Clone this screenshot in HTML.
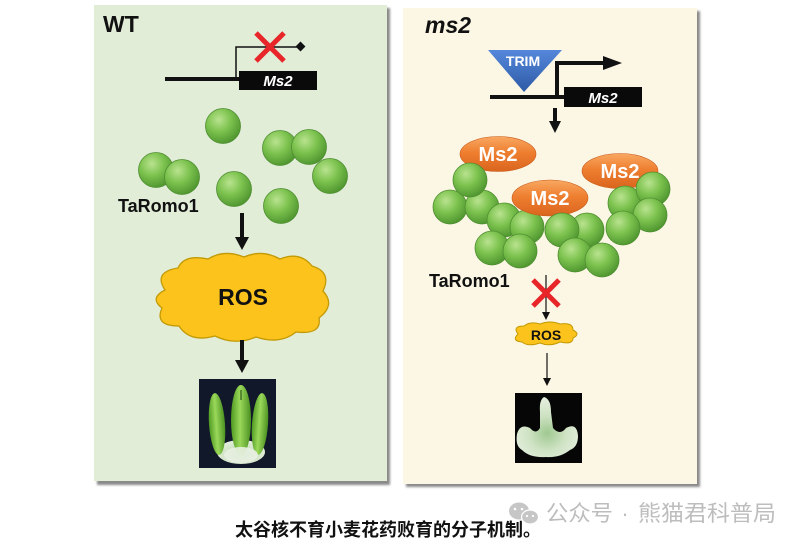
<!DOCTYPE html>
<html><head><meta charset="utf-8"><style>
html,body{margin:0;padding:0;background:#fff;width:797px;height:542px;overflow:hidden}
svg{display:block}
.l{font-family:"Liberation Sans",Arial,sans-serif}
.c{font-family:"Liberation Sans","Noto Sans CJK SC",sans-serif}
</style></head><body>
<svg width="797" height="542" viewBox="0 0 797 542" xmlns="http://www.w3.org/2000/svg">
<defs>
<radialGradient id="gb" cx="0.38" cy="0.32" r="0.7">
<stop offset="0" stop-color="#b9e38f"/><stop offset="0.5" stop-color="#7cc24e"/><stop offset="1" stop-color="#4f9630"/>
</radialGradient>
<linearGradient id="og" x1="0" y1="0" x2="0" y2="1">
<stop offset="0" stop-color="#f8a862"/><stop offset="0.45" stop-color="#ef7f30"/><stop offset="1" stop-color="#da651e"/>
</linearGradient>
<linearGradient id="bg" x1="0" y1="0" x2="0" y2="1">
<stop offset="0" stop-color="#5587da"/><stop offset="1" stop-color="#2d5aa6"/>
</linearGradient>
<linearGradient id="an" x1="0" y1="0" x2="1" y2="0">
<stop offset="0" stop-color="#4f9a22"/><stop offset="0.45" stop-color="#9ad85a"/><stop offset="1" stop-color="#4a9020"/>
</linearGradient>
<radialGradient id="wt" cx="0.5" cy="0.6" r="0.6">
<stop offset="0" stop-color="#9fc890"/><stop offset="0.5" stop-color="#cfe3c4"/><stop offset="1" stop-color="#e6efe0"/>
</radialGradient>
<filter id="sh" x="-5%" y="-5%" width="110%" height="110%"><feGaussianBlur stdDeviation="1"/></filter>
</defs>

<!-- panels -->
<rect x="97" y="8" width="293" height="477" fill="#8a8a8a" filter="url(#sh)"/>
<rect x="94" y="5" width="293" height="476" fill="#e2edd8"/>
<rect x="406" y="11" width="294" height="476" fill="#8a8a8a" filter="url(#sh)"/>
<rect x="403" y="8" width="294" height="476" fill="#fcf7e4"/>

<!-- LEFT: WT -->
<text x="103" y="32" class="l" font-size="23" font-weight="bold" fill="#111">WT</text>
<polyline points="236,79 236,47 299,47" fill="none" stroke="#111" stroke-width="1.5"/>
<rect x="297" y="43" width="7" height="7" fill="#111" transform="rotate(45 300.5 46.5)"/>
<line x1="165" y1="79" x2="241" y2="79" stroke="#111" stroke-width="4"/>
<rect x="239" y="71" width="78" height="19" fill="#0a0a0a"/>
<text x="278" y="86" class="l" font-size="15" font-weight="bold" font-style="italic" fill="#fff" text-anchor="middle">Ms2</text>
<g stroke="#e8262a" stroke-width="5" stroke-linecap="butt">
<line x1="256" y1="33" x2="284" y2="61"/><line x1="284" y1="33" x2="256" y2="61"/>
</g>

<g fill="url(#gb)" stroke="#4e8e31" stroke-width="0.8">
<circle cx="223" cy="126" r="17.5"/>
<circle cx="280" cy="148" r="17.5"/>
<circle cx="309" cy="147" r="17.5"/>
<circle cx="330" cy="176" r="17.5"/>
<circle cx="156" cy="170" r="17.5"/>
<circle cx="182" cy="177" r="17.5"/>
<circle cx="234" cy="189" r="17.5"/>
<circle cx="281" cy="206" r="17.5"/>
</g>
<text x="118" y="212" class="l" font-size="18" font-weight="bold" fill="#111">TaRomo1</text>

<line x1="242" y1="213" x2="242" y2="239" stroke="#111" stroke-width="4"/>
<polygon points="235,237 249,237 242,250" fill="#111"/>

<path d="M165 290 Q153 272 178 268 Q184 254 208 259 Q224 249 244 257 Q262 249 280 259 Q300 251 312 266 Q332 272 323 291 Q336 305 319 318 Q322 335 296 332 Q280 345 256 337 Q235 346 215 336 Q190 343 179 326 Q154 326 162 308 Q149 298 165 290 Z" fill="#fbc31b" stroke="#c29a05" stroke-width="1.3"/>
<text x="243" y="305" class="l" font-size="23" font-weight="bold" fill="#111" text-anchor="middle">ROS</text>

<line x1="242" y1="340" x2="242" y2="362" stroke="#111" stroke-width="4"/>
<polygon points="235,360 249,360 242,373" fill="#111"/>

<rect x="199" y="379" width="77" height="89" fill="#111829"/>
<ellipse cx="241" cy="452" rx="24" ry="12" fill="url(#wt)"/>
<ellipse cx="217" cy="424" rx="8" ry="31" fill="url(#an)" transform="rotate(-4 217 424)"/>
<ellipse cx="260" cy="424" rx="8" ry="31" fill="url(#an)" transform="rotate(4 260 424)"/>
<ellipse cx="241" cy="420" rx="10" ry="35" fill="url(#an)"/>
<ellipse cx="241" cy="455" rx="17" ry="8" fill="#e8efe2" opacity="0.9"/>
<line x1="241" y1="390" x2="241" y2="400" stroke="#2f5a1a" stroke-width="1.2"/>

<!-- RIGHT: ms2 -->
<text x="425" y="33" class="l" font-size="23" font-weight="bold" font-style="italic" fill="#111">ms2</text>
<polygon points="488,50 562,50 524,92" fill="url(#bg)"/>
<text x="523" y="66" class="l" font-size="14" font-weight="bold" fill="#fff" text-anchor="middle">TRIM</text>
<line x1="490" y1="97" x2="566" y2="97" stroke="#111" stroke-width="4"/>
<polyline points="557,97 557,63 605,63" fill="none" stroke="#111" stroke-width="4"/>
<polygon points="603,56 622,63 603,70" fill="#111"/>
<rect x="564" y="87" width="78" height="20" fill="#0a0a0a"/>
<text x="603" y="103" class="l" font-size="15" font-weight="bold" font-style="italic" fill="#fff" text-anchor="middle">Ms2</text>
<line x1="555" y1="108" x2="555" y2="123" stroke="#111" stroke-width="4"/>
<polygon points="549,121 561,121 555,133" fill="#111"/>

<!-- ellipse 1 + cluster -->
<ellipse cx="498" cy="154" rx="38" ry="17.5" fill="url(#og)" stroke="#c75a18" stroke-width="0.6"/>
<text x="498" y="161" class="l" font-size="20" font-weight="bold" fill="#fff" text-anchor="middle">Ms2</text>
<ellipse cx="620" cy="171" rx="38" ry="17.5" fill="url(#og)" stroke="#c75a18" stroke-width="0.6"/>
<text x="620" y="178" class="l" font-size="20" font-weight="bold" fill="#fff" text-anchor="middle">Ms2</text>
<g fill="url(#gb)" stroke="#4e8e31" stroke-width="0.8">
<circle cx="450" cy="207" r="17"/>
<circle cx="482" cy="207" r="17"/>
<circle cx="470" cy="180" r="17"/>
<circle cx="504" cy="220" r="17"/>
<circle cx="527" cy="227" r="17"/>
<circle cx="562" cy="230" r="17"/>
<circle cx="587" cy="230" r="17"/>
<circle cx="625" cy="203" r="17"/>
<circle cx="653" cy="189" r="17"/>
<circle cx="650" cy="215" r="17"/>
<circle cx="623" cy="228" r="17"/>
</g>
<ellipse cx="550" cy="198" rx="38" ry="18" fill="url(#og)" stroke="#c75a18" stroke-width="0.6"/>
<text x="550" y="205" class="l" font-size="20" font-weight="bold" fill="#fff" text-anchor="middle">Ms2</text>
<g fill="url(#gb)" stroke="#4e8e31" stroke-width="0.8">
<circle cx="492" cy="248" r="17"/>
<circle cx="520" cy="251" r="17"/>
<circle cx="562" cy="230" r="17"/>
<circle cx="575" cy="255" r="17"/>
<circle cx="602" cy="260" r="17"/>
</g>

<text x="429" y="287" class="l" font-size="18" font-weight="bold" fill="#111">TaRomo1</text>
<line x1="546" y1="275" x2="546" y2="314" stroke="#111" stroke-width="1.2"/>
<polygon points="542,312 550,312 546,320" fill="#111"/>
<g stroke="#e8262a" stroke-width="5">
<line x1="533" y1="280" x2="559" y2="306"/><line x1="559" y1="280" x2="533" y2="306"/>
</g>

<path d="M518 334 Q512 326 524 326 Q530 321 540 324 Q550 320 560 324 Q573 322 573 330 Q581 334 573 338 Q573 345 560 342 Q550 347 540 343 Q528 347 522 342 Q511 341 518 334 Z" fill="#fbc31b" stroke="#c29a05" stroke-width="1"/>
<text x="546" y="340" class="l" font-size="14" font-weight="bold" fill="#111" text-anchor="middle">ROS</text>

<line x1="547" y1="353" x2="547" y2="380" stroke="#111" stroke-width="1.2"/>
<polygon points="543,378 551,378 547,386" fill="#111"/>

<rect x="515" y="393" width="67" height="70" fill="#060606"/>
<path d="M544 397 Q551 399 551 412 L553 428 Q560 436 566 428 Q577 422 578 436 Q578 447 570 450 Q560 458 546 457 Q530 458 522 450 Q515 446 517 434 Q520 423 530 428 Q536 435 540 428 L540 412 Q539 400 544 397 Z" fill="url(#wt)"/>

<!-- caption -->
<text x="235" y="536" class="c" font-size="18" font-weight="bold" fill="#111">太谷核不育小麦花药败育的分子机制。</text>

<!-- watermark -->
<ellipse cx="519" cy="511" rx="10" ry="8.5" fill="#c6c6c6"/>
<ellipse cx="530" cy="517" rx="8.5" ry="7" fill="#c6c6c6" stroke="#fff" stroke-width="1.2"/>
<circle cx="515" cy="509" r="1.3" fill="#fff"/><circle cx="522" cy="509" r="1.3" fill="#fff"/>
<circle cx="527" cy="516" r="1.1" fill="#fff"/><circle cx="533" cy="516" r="1.1" fill="#fff"/>
<text x="546" y="521" class="c" font-size="22" fill="#bdbdbd" textLength="67" lengthAdjust="spacingAndGlyphs">公众号</text>
<text x="625" y="521" class="c" font-size="22" fill="#bdbdbd" text-anchor="middle">·</text>
<text x="638" y="521" class="c" font-size="22" fill="#bdbdbd" textLength="138" lengthAdjust="spacingAndGlyphs">熊猫君科普局</text>
</svg>
</body></html>
